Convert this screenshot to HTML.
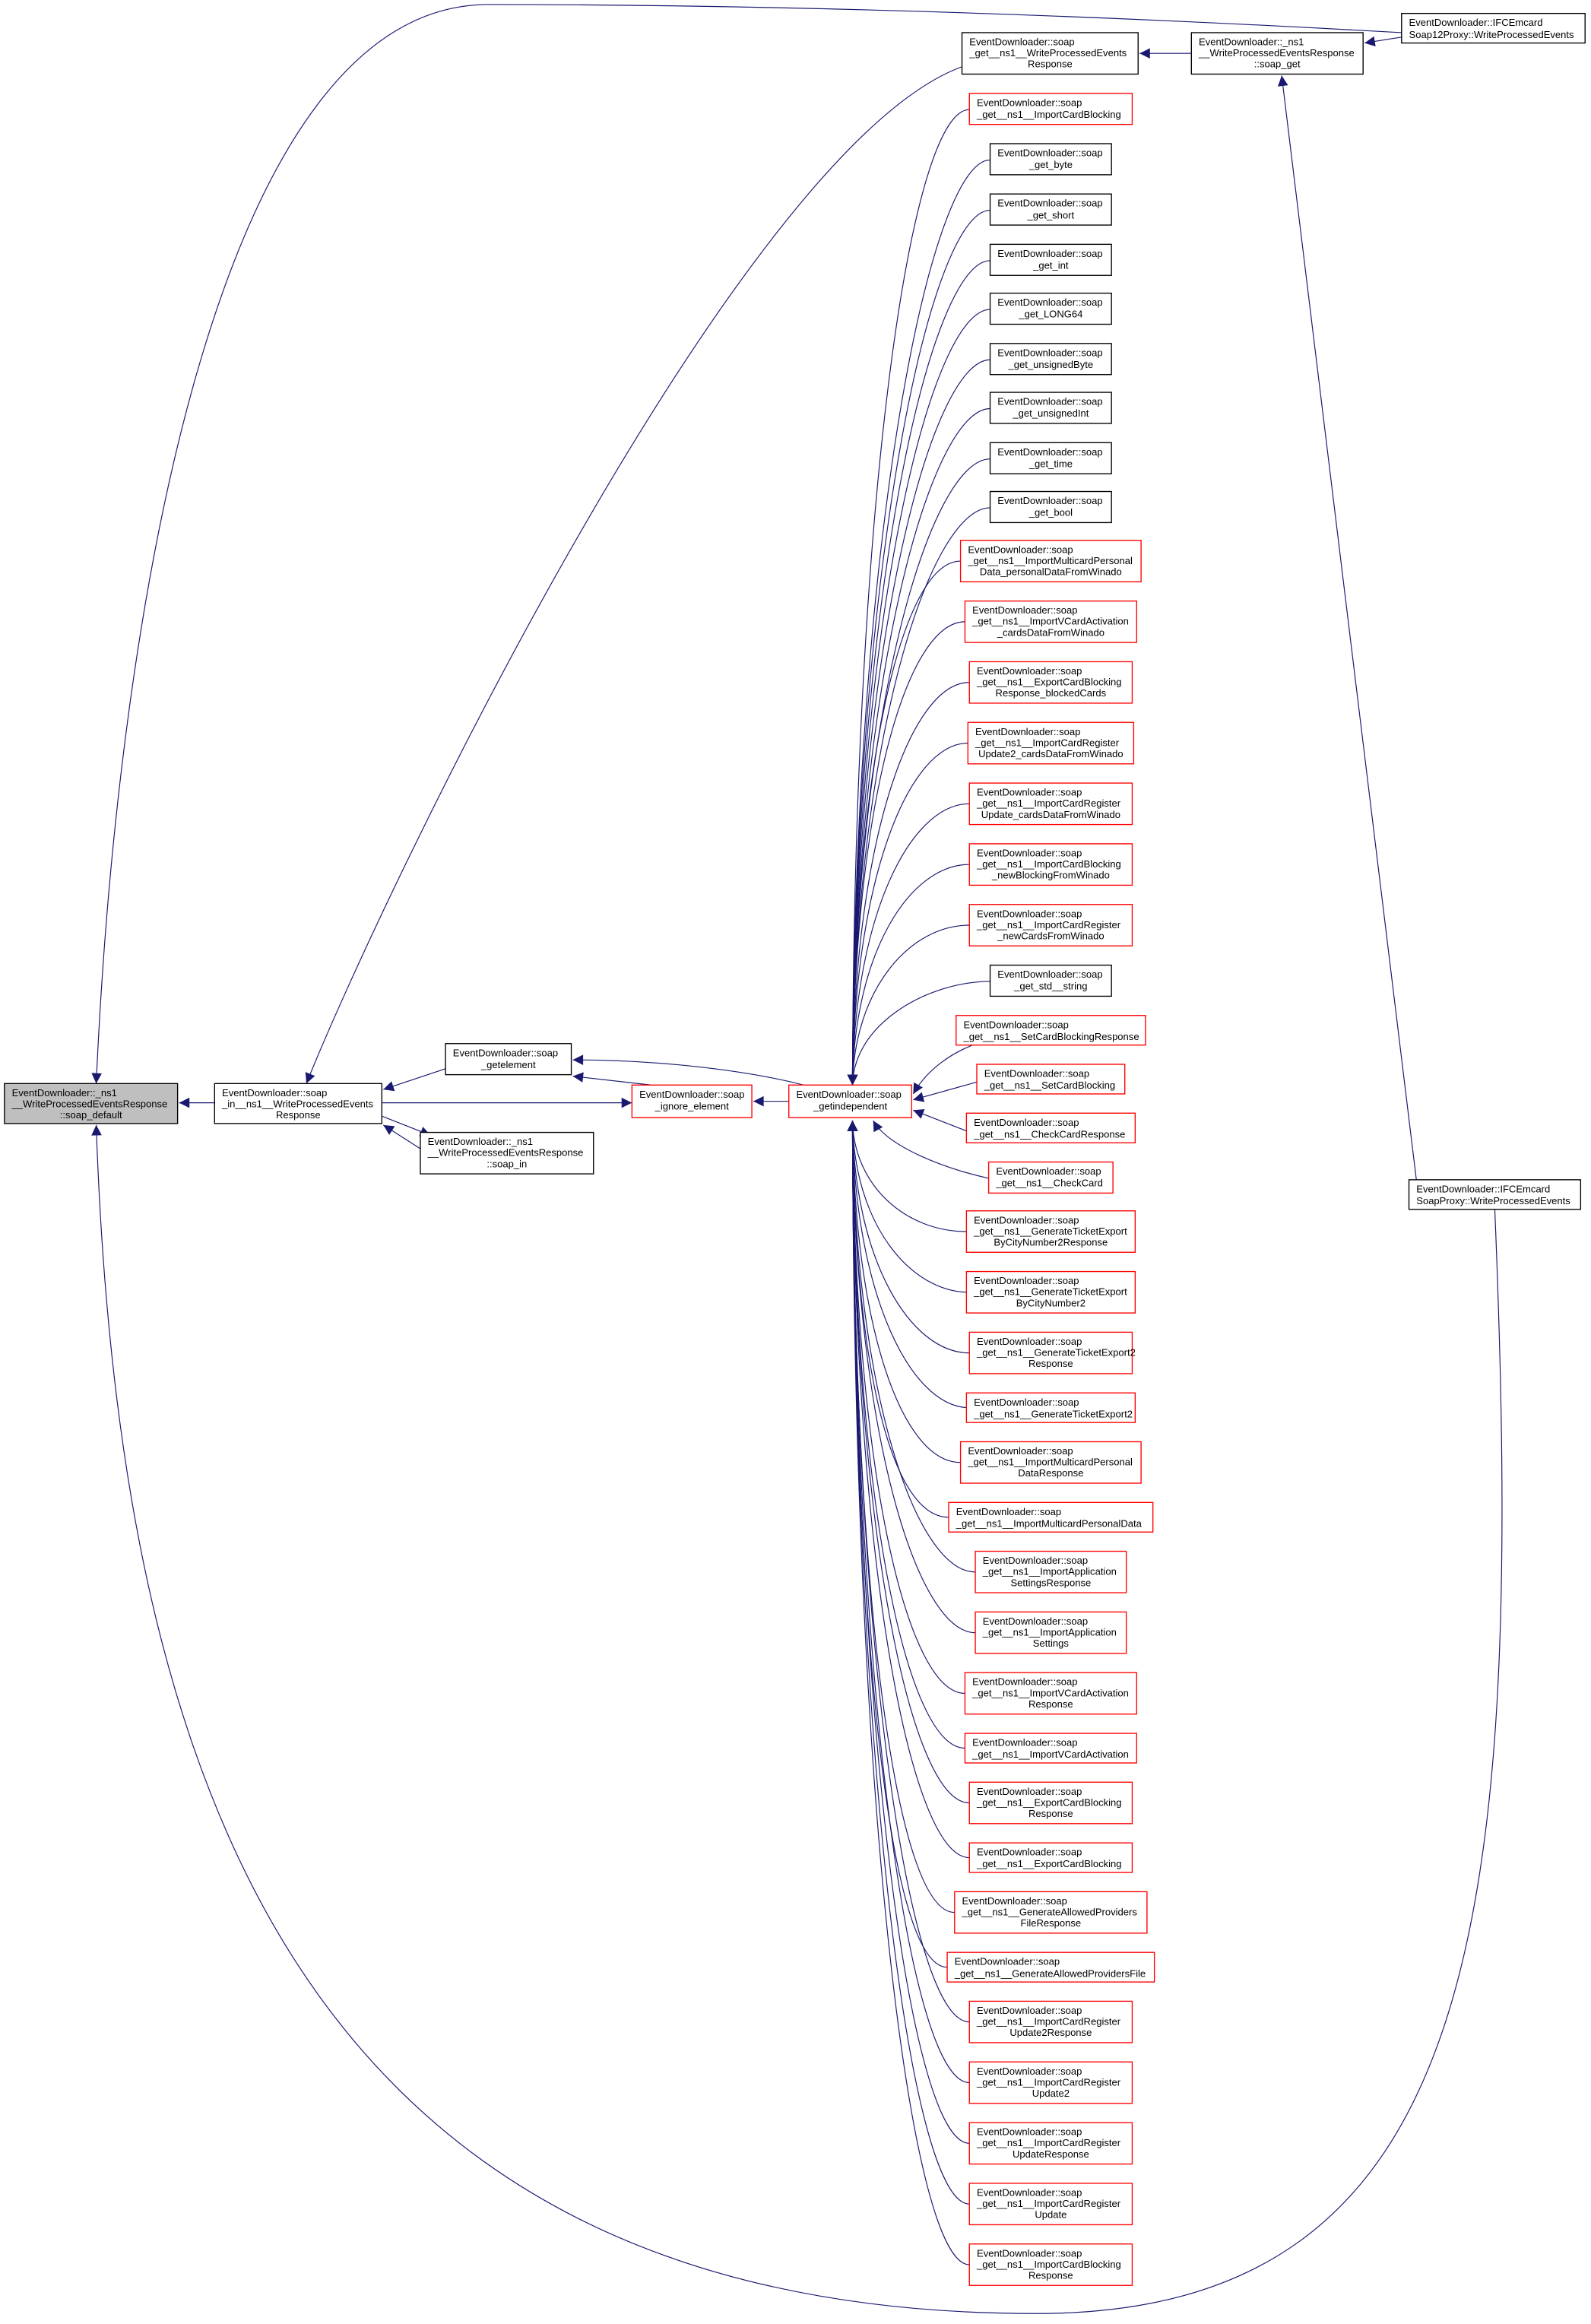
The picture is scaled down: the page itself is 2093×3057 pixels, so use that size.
<!DOCTYPE html>
<html><head><meta charset="utf-8"><style>
html,body{margin:0;padding:0;background:#fff;}
svg{display:block;}
text{font-family:"Liberation Sans",sans-serif;font-size:6.7px;fill:#000;}
.n{fill:#fff;stroke:#000;stroke-width:0.7;}
.r{fill:#fff;stroke:#ff0000;stroke-width:0.7;}
.g{fill:#bfbfbf;stroke:#000;stroke-width:0.7;}
.e{fill:none;stroke:#191970;stroke-width:0.6;}
.m{text-anchor:middle;}
</style></head><body>
<svg width="2093" height="3057" viewBox="0 0 1075 1570" xmlns="http://www.w3.org/2000/svg">
<defs><marker id="a" viewBox="0 0 10 10" refX="10" refY="5" markerWidth="8" markerHeight="7" markerUnits="userSpaceOnUse" orient="auto"><path d="M0,0 L10,5 L0,10 z" fill="#191970"/></marker></defs>
<g class="e" marker-end="url(#a)">
<path d="M947,22 C700,8 500,3 330,3 C150,3 80,400 65,732"/>
<path d="M1010,817 C1030,1300 1000,1563 700,1563 C200,1563 80,1200 65,760"/>
<path d="M145,745 L121,745"/>
<path d="M650,45 C500,100 260,600 207,732"/>
<path d="M301,722 L259,736"/>
<path d="M258,754 L291,767"/>
<path d="M284,776 L259,760"/>
<path d="M258,745 L427,745"/>
<path d="M440,733 L387,727"/>
<path d="M543,733 C500,722 440,716 387,716"/>
<path d="M533,744 L509,744"/>
<path d="M805,36 L770,36"/>
<path d="M947,25 L922,29"/>
<path d="M957,797 L866,51"/>
<path d="M655,74 C615,74 577,337 576,733"/>
<path d="M669,108 C629,108 577,358 576,733"/>
<path d="M669,142 C629,142 577,378 576,733"/>
<path d="M669,176 C629,176 577,398 576,733"/>
<path d="M669,209 C629,209 577,418 576,733"/>
<path d="M669,243 C629,243 577,438 576,733"/>
<path d="M669,276 C629,276 577,458 576,733"/>
<path d="M669,310 C629,310 577,479 576,733"/>
<path d="M669,343 C629,343 577,498 576,733"/>
<path d="M649,379 C609,379 577,520 576,733"/>
<path d="M652,420 C612,420 577,545 576,733"/>
<path d="M655,461 C615,461 577,569 576,733"/>
<path d="M654,502 C614,502 577,594 576,733"/>
<path d="M655,543 C615,543 577,619 576,733"/>
<path d="M655,584 C615,584 577,643 576,733"/>
<path d="M655,625 C615,625 577,668 576,733"/>
<path d="M669,663 C629,663 577,690 576,733"/>
<path d="M660,705 C640,712 625,725 617,739"/>
<path d="M660,731 L617,743"/>
<path d="M653,764 L617,750"/>
<path d="M668,796 C640,790 600,775 590,757"/>
<path d="M653,832 C613,832 577,802 576,757"/>
<path d="M655,873 C615,873 577,827 576,757"/>
<path d="M655,914 C615,914 577,851 576,757"/>
<path d="M655,951 C615,951 577,873 576,757"/>
<path d="M649,988 C609,988 577,895 576,757"/>
<path d="M641,1025 C601,1025 577,917 576,757"/>
<path d="M659,1062 C619,1062 577,940 576,757"/>
<path d="M659,1103 C619,1103 577,964 576,757"/>
<path d="M652,1144 C612,1144 577,989 576,757"/>
<path d="M652,1181 C612,1181 577,1011 576,757"/>
<path d="M655,1218 C615,1218 577,1033 576,757"/>
<path d="M655,1255 C615,1255 577,1055 576,757"/>
<path d="M645,1292 C605,1292 577,1078 576,757"/>
<path d="M640,1329 C600,1329 577,1100 576,757"/>
<path d="M655,1366 C615,1366 577,1122 576,757"/>
<path d="M655,1407 C615,1407 577,1147 576,757"/>
<path d="M655,1448 C615,1448 577,1171 576,757"/>
<path d="M655,1489 C615,1489 577,1196 576,757"/>
<path d="M655,1530 C615,1530 577,1220 576,757"/>
</g>

<rect class="g" x="3" y="732" width="117" height="27"/>
<text x="8" y="740.5">EventDownloader::_ns1</text><text x="8" y="748">__WriteProcessedEventsResponse</text><text class="m" x="61.5" y="755.5">::soap_default</text>

<rect class="n" x="145" y="732" width="113" height="27"/>
<text x="150" y="740.5">EventDownloader::soap</text><text x="150" y="748">_in__ns1__WriteProcessedEvents</text><text class="m" x="201.5" y="755.5">Response</text>

<rect class="n" x="301" y="705" width="85" height="21"/>
<text x="306" y="713.5">EventDownloader::soap</text><text class="m" x="343.5" y="721.5">_getelement</text>

<rect class="n" x="284" y="765" width="117" height="28"/>
<text x="289" y="773.5">EventDownloader::_ns1</text><text x="289" y="781">__WriteProcessedEventsResponse</text><text class="m" x="342.5" y="788.5">::soap_in</text>

<rect class="r" x="427" y="733" width="81" height="22"/>
<text x="432" y="741.5">EventDownloader::soap</text><text class="m" x="467.5" y="749.5">_ignore_element</text>

<rect class="r" x="533" y="733" width="83" height="22"/>
<text x="538" y="741.5">EventDownloader::soap</text><text class="m" x="574.5" y="749.5">_getindependent</text>

<rect class="n" x="650" y="22" width="119" height="28"/>
<text x="655" y="30.5">EventDownloader::soap</text><text x="655" y="38">_get__ns1__WriteProcessedEvents</text><text class="m" x="709.5" y="45.5">Response</text>

<rect class="n" x="805" y="22" width="116" height="28"/>
<text x="810" y="30.5">EventDownloader::_ns1</text><text x="810" y="38">__WriteProcessedEventsResponse</text><text class="m" x="863" y="45.5">::soap_get</text>

<rect class="n" x="947" y="9" width="124" height="20"/>
<text x="952" y="17.5">EventDownloader::IFCEmcard</text><text x="952" y="25.5">Soap12Proxy::WriteProcessedEvents</text>

<rect class="n" x="952" y="797" width="116" height="20"/>
<text x="957" y="805.5">EventDownloader::IFCEmcard</text><text x="957" y="813.5">SoapProxy::WriteProcessedEvents</text>

<rect class="r" x="655" y="63" width="110" height="21"/><text x="660" y="71.5">EventDownloader::soap</text><text x="660" y="79.5">_get__ns1__ImportCardBlocking</text>
<rect class="n" x="669" y="97" width="82" height="21"/><text x="674" y="105.5">EventDownloader::soap</text><text class="m" x="710" y="113.5">_get_byte</text>
<rect class="n" x="669" y="131" width="82" height="21"/><text x="674" y="139.5">EventDownloader::soap</text><text class="m" x="710" y="147.5">_get_short</text>
<rect class="n" x="669" y="165" width="82" height="21"/><text x="674" y="173.5">EventDownloader::soap</text><text class="m" x="710" y="181.5">_get_int</text>
<rect class="n" x="669" y="198" width="82" height="21"/><text x="674" y="206.5">EventDownloader::soap</text><text class="m" x="710" y="214.5">_get_LONG64</text>
<rect class="n" x="669" y="232" width="82" height="21"/><text x="674" y="240.5">EventDownloader::soap</text><text class="m" x="710" y="248.5">_get_unsignedByte</text>
<rect class="n" x="669" y="265" width="82" height="21"/><text x="674" y="273.5">EventDownloader::soap</text><text class="m" x="710" y="281.5">_get_unsignedInt</text>
<rect class="n" x="669" y="299" width="82" height="21"/><text x="674" y="307.5">EventDownloader::soap</text><text class="m" x="710" y="315.5">_get_time</text>
<rect class="n" x="669" y="332" width="82" height="21"/><text x="674" y="340.5">EventDownloader::soap</text><text class="m" x="710" y="348.5">_get_bool</text>

<rect class="r" x="649" y="365" width="122" height="28"/><text x="654" y="373.5">EventDownloader::soap</text><text x="654" y="381">_get__ns1__ImportMulticardPersonal</text><text class="m" x="710" y="388.5">Data_personalDataFromWinado</text>
<rect class="r" x="652" y="406" width="116" height="28"/><text x="657" y="414.5">EventDownloader::soap</text><text x="657" y="422">_get__ns1__ImportVCardActivation</text><text class="m" x="710" y="429.5">_cardsDataFromWinado</text>
<rect class="r" x="655" y="447" width="110" height="28"/><text x="660" y="455.5">EventDownloader::soap</text><text x="660" y="463">_get__ns1__ExportCardBlocking</text><text class="m" x="710" y="470.5">Response_blockedCards</text>
<rect class="r" x="654" y="488" width="112" height="28"/><text x="659" y="496.5">EventDownloader::soap</text><text x="659" y="504">_get__ns1__ImportCardRegister</text><text class="m" x="710" y="511.5">Update2_cardsDataFromWinado</text>
<rect class="r" x="655" y="529" width="110" height="28"/><text x="660" y="537.5">EventDownloader::soap</text><text x="660" y="545">_get__ns1__ImportCardRegister</text><text class="m" x="710" y="552.5">Update_cardsDataFromWinado</text>
<rect class="r" x="655" y="570" width="110" height="28"/><text x="660" y="578.5">EventDownloader::soap</text><text x="660" y="586">_get__ns1__ImportCardBlocking</text><text class="m" x="710" y="593.5">_newBlockingFromWinado</text>
<rect class="r" x="655" y="611" width="110" height="28"/><text x="660" y="619.5">EventDownloader::soap</text><text x="660" y="627">_get__ns1__ImportCardRegister</text><text class="m" x="710" y="634.5">_newCardsFromWinado</text>
<rect class="n" x="669" y="652" width="82" height="21"/><text x="674" y="660.5">EventDownloader::soap</text><text class="m" x="710" y="668.5">_get_std__string</text>
<rect class="r" x="646" y="686" width="128" height="20"/><text x="651" y="694.5">EventDownloader::soap</text><text x="651" y="702.5">_get__ns1__SetCardBlockingResponse</text>
<rect class="r" x="660" y="719" width="100" height="20"/><text x="665" y="727.5">EventDownloader::soap</text><text x="665" y="735.5">_get__ns1__SetCardBlocking</text>
<rect class="r" x="653" y="752" width="114" height="20"/><text x="658" y="760.5">EventDownloader::soap</text><text x="658" y="768.5">_get__ns1__CheckCardResponse</text>
<rect class="r" x="668" y="785" width="84" height="21"/><text x="673" y="793.5">EventDownloader::soap</text><text x="673" y="801.5">_get__ns1__CheckCard</text>
<rect class="r" x="653" y="818" width="114" height="28"/><text x="658" y="826.5">EventDownloader::soap</text><text x="658" y="834">_get__ns1__GenerateTicketExport</text><text class="m" x="710" y="841.5">ByCityNumber2Response</text>
<rect class="r" x="653" y="859" width="114" height="28"/><text x="658" y="867.5">EventDownloader::soap</text><text x="658" y="875">_get__ns1__GenerateTicketExport</text><text class="m" x="710" y="882.5">ByCityNumber2</text>
<rect class="r" x="655" y="900" width="110" height="28"/><text x="660" y="908.5">EventDownloader::soap</text><text x="660" y="916">_get__ns1__GenerateTicketExport2</text><text class="m" x="710" y="923.5">Response</text>
<rect class="r" x="653" y="941" width="114" height="20"/><text x="658" y="949.5">EventDownloader::soap</text><text x="658" y="957.5">_get__ns1__GenerateTicketExport2</text>
<rect class="r" x="649" y="974" width="122" height="28"/><text x="654" y="982.5">EventDownloader::soap</text><text x="654" y="990">_get__ns1__ImportMulticardPersonal</text><text class="m" x="710" y="997.5">DataResponse</text>
<rect class="r" x="641" y="1015" width="138" height="20"/><text x="646" y="1023.5">EventDownloader::soap</text><text x="646" y="1031.5">_get__ns1__ImportMulticardPersonalData</text>
<rect class="r" x="659" y="1048" width="102" height="28"/><text x="664" y="1056.5">EventDownloader::soap</text><text x="664" y="1064">_get__ns1__ImportApplication</text><text class="m" x="710" y="1071.5">SettingsResponse</text>
<rect class="r" x="659" y="1089" width="102" height="28"/><text x="664" y="1097.5">EventDownloader::soap</text><text x="664" y="1105">_get__ns1__ImportApplication</text><text class="m" x="710" y="1112.5">Settings</text>
<rect class="r" x="652" y="1130" width="116" height="28"/><text x="657" y="1138.5">EventDownloader::soap</text><text x="657" y="1146">_get__ns1__ImportVCardActivation</text><text class="m" x="710" y="1153.5">Response</text>
<rect class="r" x="652" y="1171" width="116" height="20"/><text x="657" y="1179.5">EventDownloader::soap</text><text x="657" y="1187.5">_get__ns1__ImportVCardActivation</text>
<rect class="r" x="655" y="1204" width="110" height="28"/><text x="660" y="1212.5">EventDownloader::soap</text><text x="660" y="1220">_get__ns1__ExportCardBlocking</text><text class="m" x="710" y="1227.5">Response</text>
<rect class="r" x="655" y="1245" width="110" height="20"/><text x="660" y="1253.5">EventDownloader::soap</text><text x="660" y="1261.5">_get__ns1__ExportCardBlocking</text>
<rect class="r" x="645" y="1278" width="130" height="28"/><text x="650" y="1286.5">EventDownloader::soap</text><text x="650" y="1294">_get__ns1__GenerateAllowedProviders</text><text class="m" x="710" y="1301.5">FileResponse</text>
<rect class="r" x="640" y="1319" width="140" height="20"/><text x="645" y="1327.5">EventDownloader::soap</text><text x="645" y="1335.5">_get__ns1__GenerateAllowedProvidersFile</text>
<rect class="r" x="655" y="1352" width="110" height="28"/><text x="660" y="1360.5">EventDownloader::soap</text><text x="660" y="1368">_get__ns1__ImportCardRegister</text><text class="m" x="710" y="1375.5">Update2Response</text>
<rect class="r" x="655" y="1393" width="110" height="28"/><text x="660" y="1401.5">EventDownloader::soap</text><text x="660" y="1409">_get__ns1__ImportCardRegister</text><text class="m" x="710" y="1416.5">Update2</text>
<rect class="r" x="655" y="1434" width="110" height="28"/><text x="660" y="1442.5">EventDownloader::soap</text><text x="660" y="1450">_get__ns1__ImportCardRegister</text><text class="m" x="710" y="1457.5">UpdateResponse</text>
<rect class="r" x="655" y="1475" width="110" height="28"/><text x="660" y="1483.5">EventDownloader::soap</text><text x="660" y="1491">_get__ns1__ImportCardRegister</text><text class="m" x="710" y="1498.5">Update</text>
<rect class="r" x="655" y="1516" width="110" height="28"/><text x="660" y="1524.5">EventDownloader::soap</text><text x="660" y="1532">_get__ns1__ImportCardBlocking</text><text class="m" x="710" y="1539.5">Response</text>
</svg>
</body></html>
